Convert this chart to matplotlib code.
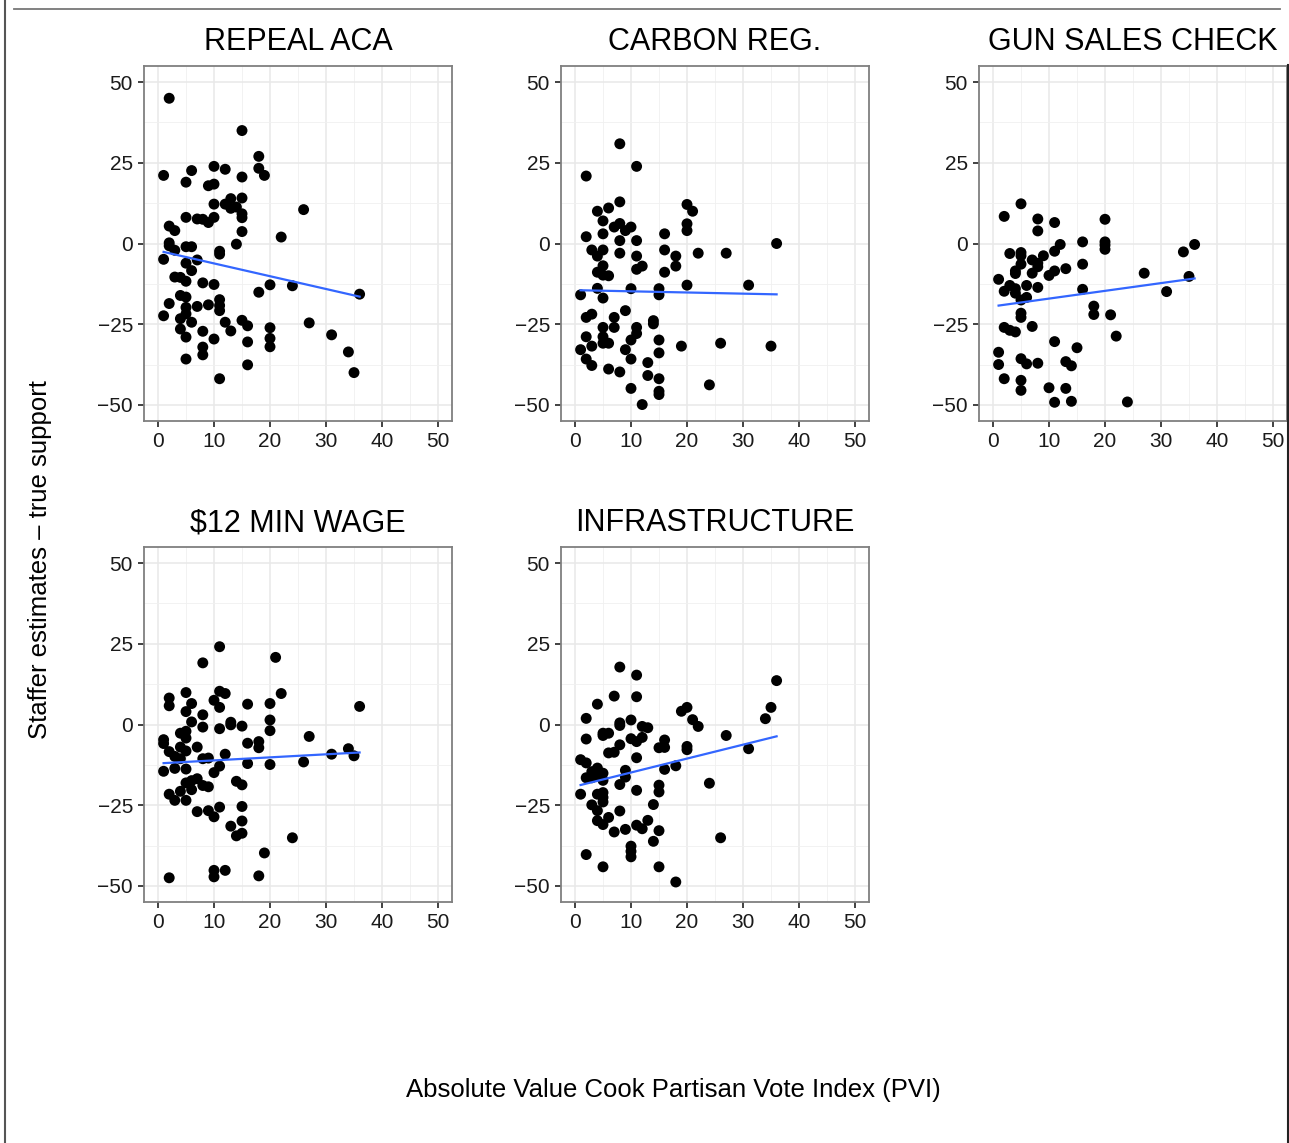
import numpy as np
import matplotlib
matplotlib.use("Agg")
import matplotlib.pyplot as plt
from matplotlib.lines import Line2D

plt.rcParams['font.family'] = ['Liberation Sans', 'DejaVu Sans']

titles = ["REPEAL ACA", "CARBON REG.", "GUN SALES CHECK", "$12 MIN WAGE", "INFRASTRUCTURE"]

# (PVI, staffer estimate - true support)
aca_x = [2, 15, 18, 1, 6, 10, 12, 5, 15, 18, 19, 9, 10, 26, 10, 12, 13, 13, 14, 15, 15, 15, 15,
         5, 7, 8, 9, 10, 2, 3, 22, 14, 2, 2, 3, 5, 6, 11, 11, 1, 5, 7, 6, 3, 4, 5, 8, 10, 20, 24,
         36, 18, 2, 4, 5, 7, 9, 11, 11, 11, 5, 5, 1, 4, 6, 12, 15, 16, 27, 4, 5, 8, 13, 10, 20,
         20, 20, 16, 31, 8, 8, 5, 16, 34, 35, 11]
aca_y = [45.0, 35.0, 27.0, 21.1, 22.6, 23.9, 23.0, 19.0, 20.6, 23.3, 21.1, 17.9, 18.4, 10.5,
         12.2, 12.2, 13.9, 10.9, 11.3, 14.1, 9.2, 8.0, 3.7, 8.1, 7.6, 7.5, 6.5, 8.1, 5.4, 4.0,
         2.0, -0.2, 0.2, -0.7, -2.1, -1.0, -1.0, -2.4, -3.3, -4.9, -6.1, -5.1, -8.4, -10.4,
         -10.5, -11.7, -12.2, -12.7, -12.8, -13.1, -15.7, -15.1, -18.6, -16.1, -16.6, -19.5,
         -19.0, -17.4, -19.2, -20.8, -19.8, -21.8, -22.4, -23.3, -24.4, -24.4, -23.8, -25.5,
         -24.6, -26.5, -29.0, -27.2, -27.1, -29.6, -26.1, -29.4, -32.0, -30.5, -28.3, -32.1,
         -34.5, -35.8, -37.6, -33.6, -40.0, -41.9]

carbon_x = [8, 11, 2, 8, 4, 6, 5, 20, 21, 20, 20, 7, 8, 9, 10, 2, 5, 8, 11, 16, 3, 5, 4, 8, 11,
            16, 18, 22, 27, 36, 5, 4, 5, 6, 11, 12, 18, 16, 4, 5, 1, 10, 15, 15, 20, 31, 2, 3, 7,
            9, 14, 14, 5, 7, 11, 11, 2, 5, 5, 6, 10, 15, 3, 1, 9, 19, 26, 35, 2, 3, 10, 15, 13,
            6, 8, 13, 15, 10, 15, 15, 24, 12]
carbon_y = [30.9, 23.9, 20.9, 12.9, 10.0, 11.0, 7.0, 12.1, 10.0, 6.1, 4.0, 5.1, 6.2, 4.0, 5.1,
            2.1, 3.0, 0.9, 0.9, 3.0, -2.0, -2.0, -3.9, -3.0, -3.9, -2.0, -3.9, -3.0, -3.0, 0.0,
            -6.9, -8.9, -9.8, -10.0, -8.0, -7.0, -7.0, -8.9, -13.9, -16.9, -15.9, -14.0, -14.0,
            -15.9, -12.9, -12.9, -22.9, -21.9, -22.9, -20.8, -23.9, -24.9, -26.0, -26.0, -26.0,
            -27.9, -28.9, -28.9, -30.9, -30.9, -29.9, -29.9, -31.8, -32.9, -32.9, -31.8, -30.9,
            -31.8, -35.8, -37.8, -35.8, -33.9, -36.9, -38.9, -39.8, -40.9, -41.9, -44.9, -45.8,
            -46.8, -43.8, -49.9]

gun_x = [5, 2, 8, 8, 11, 20, 20, 20, 20, 16, 12, 11, 3, 5, 5, 9, 7, 8, 5, 8, 7, 4, 4, 10, 11,
         13, 16, 34, 36, 27, 35, 31, 1, 3, 2, 4, 4, 6, 8, 6, 5, 16, 18, 18, 21, 5, 5, 2, 3, 4, 7,
         22, 11, 15, 1, 1, 5, 6, 8, 13, 14, 2, 5, 5, 10, 13, 11, 14, 24]
gun_y = [12.3, 8.4, 7.6, 3.9, 6.5, 7.5, 0.5, -0.5, -1.8, 0.5, -0.3, -2.4, -3.1, -2.8, -3.8,
         -3.8, -5.1, -6.1, -6.4, -7.2, -9.2, -8.5, -9.3, -9.9, -8.5, -7.8, -6.4, -2.6, -0.3,
         -9.2, -10.2, -14.9, -11.1, -13.0, -14.8, -14.0, -15.4, -13.0, -13.6, -16.7, -17.5,
         -14.2, -19.4, -22.0, -22.1, -21.6, -22.9, -26.0, -26.9, -27.4, -25.7, -28.7, -30.4,
         -32.3, -33.7, -37.5, -35.7, -37.3, -37.1, -36.6, -37.9, -41.9, -42.4, -45.5, -44.7,
         -44.9, -49.2, -48.9, -49.1]

wage_x = [11, 8, 21, 5, 11, 12, 22, 2, 2, 6, 10, 11, 16, 20, 36, 5, 8, 6, 8, 11, 13, 13, 15,
          20, 20, 1, 1, 4, 5, 5, 4, 5, 2, 7, 3, 4, 8, 9, 12, 16, 18, 18, 27, 31, 34, 35, 16, 20,
          26, 3, 5, 1, 10, 11, 5, 6, 7, 8, 9, 6, 4, 2, 3, 5, 14, 15, 7, 9, 10, 11, 15, 15, 13,
          14, 15, 24, 19, 10, 10, 12, 2, 18]
wage_y = [24.1, 19.1, 20.8, 9.9, 10.3, 9.6, 9.6, 8.2, 5.8, 6.5, 7.5, 5.3, 6.3, 6.5, 5.6, 4.0,
          3.0, 0.8, -0.8, -1.3, 0.7, -0.1, -0.5, 1.4, -1.9, -4.7, -5.9, -2.7, -2.1, -4.2, -7.0,
          -8.2, -8.4, -7.0, -9.9, -10.6, -10.6, -10.4, -9.2, -5.8, -5.3, -7.2, -3.7, -9.2, -7.5,
          -9.7, -12.1, -12.4, -11.6, -13.6, -13.8, -14.5, -14.9, -12.9, -18.1, -17.4, -16.8,
          -18.9, -19.3, -20.2, -20.7, -21.6, -23.5, -23.5, -17.6, -18.7, -27.0, -26.7, -28.6,
          -25.6, -25.4, -29.9, -31.5, -34.5, -33.7, -35.1, -39.8, -45.2, -47.2, -45.2, -47.5,
          -46.9]

infra_x = [8, 11, 36, 7, 11, 4, 19, 20, 21, 22, 35, 34, 2, 10, 8, 8, 12, 13, 5, 5, 6, 2, 10,
           11, 12, 8, 16, 15, 16, 20, 20, 27, 31, 6, 7, 11, 1, 2, 4, 3, 5, 2, 3, 4, 5, 9, 9, 16,
           18, 8, 15, 15, 24, 1, 4, 5, 5, 5, 11, 3, 4, 8, 14, 4, 6, 5, 7, 9, 11, 12, 13, 15, 14,
           26, 10, 10, 10, 2, 5, 15, 18]
infra_y = [17.8, 15.3, 13.6, 8.8, 8.6, 6.3, 4.1, 5.3, 1.5, -0.6, 5.3, 1.8, 1.9, 1.4, 0.5, -0.3,
           -0.6, -1.0, -2.7, -3.4, -2.7, -4.5, -4.4, -5.3, -4.0, -6.3, -4.8, -7.2, -7.1, -6.8,
           -7.8, -3.4, -7.5, -8.8, -8.6, -10.3, -10.9, -11.9, -13.5, -14.6, -15.1, -16.5, -16.5,
           -15.8, -17.3, -14.2, -16.3, -13.9, -12.8, -18.6, -18.8, -20.9, -18.2, -21.6, -21.6,
           -21.1, -22.6, -24.0, -20.4, -24.9, -26.7, -26.8, -24.8, -29.8, -28.8, -31.0, -33.3,
           -32.5, -31.2, -32.3, -29.7, -32.9, -36.2, -35.1, -37.7, -39.3, -41.0, -40.3, -44.1,
           -44.1, -48.8]

xs = [aca_x, carbon_x, gun_x, wage_x, infra_x]
ys = [aca_y, carbon_y, gun_y, wage_y, infra_y]

W, H = 1289, 1143
fig = plt.figure(figsize=(W / 100, H / 100), dpi=100)

lefts = [144, 561, 979]
rows = [(66, 421), (547, 902)]
pw = 308

for i in range(5):
    r, c = divmod(i, 3)
    top, bot = rows[r]
    ax = fig.add_axes([lefts[c] / W, 1 - bot / H, pw / W, (bot - top) / H])
    ax.set_xlim(-2.5, 52.5)
    ax.set_ylim(-55, 55)
    ax.set_xticks([0, 10, 20, 30, 40, 50])
    ax.set_yticks([-50, -25, 0, 25, 50])
    ax.set_xticks([5, 15, 25, 35, 45], minor=True)
    ax.set_yticks([-37.5, -12.5, 12.5, 37.5], minor=True)
    ax.grid(True, which='major', color='#e8e8e8', lw=1.1)
    ax.grid(True, which='minor', color='#f0f0f0', lw=0.6)
    ax.set_axisbelow(True)
    for s in ax.spines.values():
        s.set_color('#7f7f7f')
        s.set_linewidth(1.3)
    ax.tick_params(which='major', length=4, width=1.3, color='#333333',
                   labelsize=15, labelcolor='#1a1a1a', pad=4)
    ax.tick_params(which='minor', length=0)

    x = np.array(xs[i], dtype=float)
    y = np.array(ys[i], dtype=float)
    ax.scatter(x, y, s=62, color='black', edgecolors='none', zorder=3)
    # linear fit, like geom_smooth(method = "lm", se = FALSE)
    b, a = np.polyfit(x, y, 1)
    xl = np.array([x.min(), x.max()])
    ax.plot(xl, a + b * xl, color='#3366ff', lw=1.6, zorder=4)

    ax.text(0.5, 1 + 24 / (bot - top), titles[i], transform=ax.transAxes,
            ha='center', va='center', fontsize=22, color='black')

fig.text(673 / W, 1 - 1090 / H, "Absolute Value Cook Partisan Vote Index (PVI)",
         ha='center', va='center', fontsize=18.5, color='black')
fig.text(40 / W, 1 - 560 / H, "Staffer estimates \u2013 true support", rotation=90,
         ha='center', va='center', fontsize=18.5, color='black')

# frame lines left over from the original crop
fig.add_artist(Line2D([5 / W, 5 / W], [0, 1], color='#555555', lw=1.5))
fig.add_artist(Line2D([14 / W, 1280 / W], [1 - 9 / H, 1 - 9 / H], color='#777777', lw=1.3))
fig.add_artist(Line2D([1287.5 / W, 1287.5 / W], [0, 1 - 65 / H], color='#222222', lw=1.5))

fig.savefig("out.png", dpi=100, facecolor='white')
